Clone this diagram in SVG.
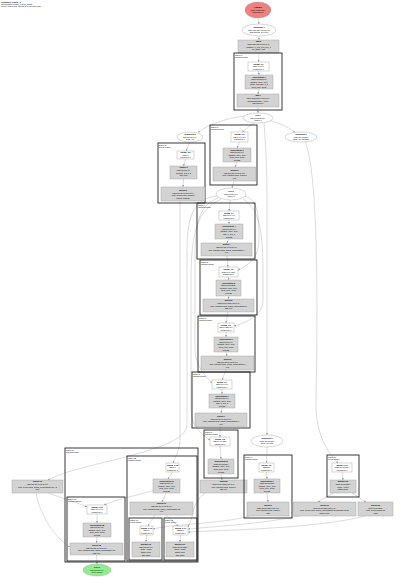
<svg xmlns="http://www.w3.org/2000/svg" width="400" height="577" viewBox="0 0 400 577">
<style>
.w{fill:#fff;stroke:#999;stroke-width:0.4}
.g{fill:#d3d3d3;stroke:#999;stroke-width:0.4}
.el{fill:#fff;stroke:#999;stroke-width:0.4}
.cl{fill:none;stroke:#222;stroke-width:0.9}
.e{fill:none;stroke:#999;stroke-width:0.35;marker-end:url(#a)}
text{font-family:"Liberation Sans",Arial,sans-serif;font-size:2px;fill:#000;text-anchor:middle}
.b{font-weight:bold}
.l{text-anchor:start}
</style>
<defs>
<marker id="a" markerUnits="userSpaceOnUse" markerWidth="2" markerHeight="2" refX="2" refY="1" orient="auto"><path d="M0,0 L2,1 L0,2 z" fill="#999"/></marker>
</defs>
<rect width="400" height="577" fill="#fff"/>
<g id="title"><text class="l b" x="1" y="2.6">HloModule cluster_0</text><text class="l" x="1" y="4.8">Computation cluster_0.main_graph</text><text class="l" x="1" y="7">Profile: fusion ops, ranked by execution order</text></g>

<g id="connectors">
<path class="e" d="M258,18 L259,24"/>
<path class="e" d="M259,36 L259,40"/>
<path class="e" d="M259,53 L258.5,62"/>
<path class="e" d="M258.5,71 L259,75"/>
<path class="e" d="M259,89 L258,94"/>
<path class="e" d="M258,107 L258,113"/>
<path class="e" d="M245,116 C226,118 207,125 198,132.5"/>
<path class="e" d="M254,123 L242,132"/>
<path class="e" d="M271,121 C282,124 290,128 295,132.5"/>
<path class="e" d="M264,123 C266,150 267,170 267,200 L267,435"/>
<path class="e" d="M190,142 L186,151"/>
<path class="e" d="M185.5,159 L183.5,166"/>
<path class="e" d="M183.5,179 L183,187"/>
<path class="e" d="M180,201 L180,440 C180,450 175,457 173,463"/>
<path class="e" d="M239.5,142 L237,148"/>
<path class="e" d="M237,162 L235,167"/>
<path class="e" d="M234,181 L232,188"/>
<path class="e" d="M230,200 L229,211"/>
<path class="e" d="M229,220 L229,224"/>
<path class="e" d="M229,239 L227,243"/>
<path class="e" d="M227,256 L228,267"/>
<path class="e" d="M228.5,277 L228.5,280"/>
<path class="e" d="M228.5,296 L228.5,299"/>
<path class="e" d="M228,312 L226,323"/>
<path class="e" d="M226,332 L226,337"/>
<path class="e" d="M226,352 L227,356"/>
<path class="e" d="M226,370 L222,380"/>
<path class="e" d="M222,389 L222,394"/>
<path class="e" d="M222,408 L221,413"/>
<path class="e" d="M220,427 L220,437"/>
<path class="e" d="M220,446 L221,459"/>
<path class="e" d="M221,474 L222,480"/>
<path class="e" d="M245,196 C258,200 259,215 259,240 C259,256 250,265 238,270"/>
<path class="e" d="M243,199 C262,210 263,240 263,280 L263,300 C263,315 248,322 234,326"/>
<path class="e" d="M218,198 C200,205 195,220 195,260 L195,350 C195,364 204,375 212,383"/>
<path class="e" d="M221,199 C198,210 191,230 191,280 L191,410 C191,424 199,433 210,440"/>
<path class="e" d="M216,196 C196,199 187,212 187,250 L187,425 C187,452 80,462 48,480"/>
<path class="e" d="M305,142 C318,170 318,300 316,400 C315,430 325,450 338,463"/>
<path class="e" d="M342,472 L343,480"/>
<path class="e" d="M352,493 L366,502"/>
<path class="e" d="M333,493 C327,497 322,499 318,502"/>
<path class="e" d="M267,447 L266.5,463"/>
<path class="e" d="M266.5,472 L267,479"/>
<path class="e" d="M267,493 L268,502"/>
<path class="e" d="M250,516 C220,524 172,524 153,529"/>
<path class="e" d="M300,516 C260,524 220,526 188,529"/>
<path class="e" d="M365,516 C320,528 230,530 188,532"/>
<path class="e" d="M205,493 C190,505 195,515 188,527"/>
<path class="e" d="M172.5,472 L168,479"/>
<path class="e" d="M166,493 L162,502"/>
<path class="e" d="M155,515 L148,526"/>
<path class="e" d="M166,515 L178,526"/>
<path class="e" d="M146.5,535 L146,542"/>
<path class="e" d="M180.5,535 L180,542"/>
<path class="e" d="M155,490 C138,495 118,499 104,505"/>
<path class="e" d="M48,493 C62,498 76,502 87,507"/>
<path class="e" d="M36,493 C40,515 55,538 70,547"/>
<path class="e" d="M97,514 L97,523"/>
<path class="e" d="M97,537 L96.5,543"/>
<path class="e" d="M96.5,555 L97,564"/>
</g>

<g id="n_start"><ellipse cx="258" cy="10" rx="13" ry="8" fill="#f08080" stroke="#999" stroke-width="0.4"/><text class="b" x="258" y="8.2">Param 0</text><text x="258" y="10.8">f32[1,3,224,224]</text><text x="258" y="13.4">parameter(0)</text></g>
<g id="n_e0"><ellipse class="el" cx="259" cy="30" rx="17" ry="6"/><text class="b" x="259" y="28.2">transpose.1</text><text x="259" y="30.8">f32[1,224,224,3]{3,2,1,0}</text><text x="259" y="33.4">dimensions={0,2,3,1}</text></g>
<g id="n_g0"><rect class="g" x="238" y="40" width="41" height="13"/><text class="b" x="258.5" y="42.4">pad.2</text><text x="258.5" y="45">f32[1,230,230,3]{3,2,1,0}</text><text x="258.5" y="47.6">padding=0_0x3_3x3_3x0_0</text><text x="258.5" y="50.2">op_name=pad</text></g>

<g id="c_A"><rect class="cl" x="234" y="53" width="48" height="57"/><text class="l" x="235" y="55.6">fusion.1</text><text class="l" x="235" y="57.8">kOutput fusion</text>
<rect class="w" x="248" y="62" width="21" height="9"/><text class="b" x="258.5" y="64.7">param_0.1</text><text x="258.5" y="67.3">f32[7,7,3,64]</text><text x="258.5" y="69.9">parameter 0</text>
<rect class="g" x="245" y="75" width="28" height="14"/><text class="b" x="259" y="77.6">convolution.1</text><text x="259" y="80.2">f32[1,112,112,64]</text><text x="259" y="82.8">window={size=7x7}</text><text x="259" y="85.4">stride=2x2 pad=3_3</text><text x="259" y="88">b01f_01io-&gt;b01f</text>
<rect class="g" x="237" y="94" width="42" height="13"/><text class="b" x="258" y="96.4">add.1</text><text x="258" y="99">f32[1,112,112,64]{3,2,1,0}</text><text x="258" y="101.6">broadcast(bias) + conv</text><text x="258" y="104.2">maximum(0)</text></g>

<g id="n_E1"><ellipse class="el" cx="258" cy="118" rx="15" ry="5"/><text class="b" x="258" y="116.2">relu.1</text><text x="258" y="118.8">f32[1,112,112,64]</text><text x="258" y="121.4">fusion.1</text></g>
<g id="n_L1"><ellipse class="el" cx="190" cy="137" rx="13" ry="5"/><text class="b" x="190" y="135.2">broadcast.2</text><text x="190" y="137.8">f32[1,56,56,64]</text><text x="190" y="140.4">dims={3}</text></g>
<g id="n_R1"><ellipse class="el" cx="301" cy="137" rx="16" ry="5"/><text class="b" x="301" y="135.2">broadcast.3</text><text x="301" y="137.8">f32[1,56,56,256]</text><text x="301" y="140.4">dims={3} constant</text></g>

<g id="c_B"><rect class="cl" x="158" y="143" width="47" height="60"/><text class="l" x="159" y="145.6">fusion.2</text><text class="l" x="159" y="147.8">kLoop fusion</text>
<rect class="w" x="177" y="151" width="17" height="8"/><text class="b" x="185.5" y="153.2">param_0.2</text><text x="185.5" y="155.8">f32[64]</text><text x="185.5" y="158.4">parameter 0</text>
<rect class="g" x="170" y="166" width="27" height="13"/><text class="b" x="183.5" y="168.4">reduce.2</text><text x="183.5" y="171">f32[1,56,56,64]</text><text x="183.5" y="173.6">window=3x3 s=2</text><text x="183.5" y="176.2">max pool</text>
<rect class="g" x="161" y="187" width="44" height="14"/><text class="b" x="183" y="190.9">fusion.2</text><text x="183" y="193.5">f32[1,56,56,64]{3,2,1,0}</text><text x="183" y="196.1">kind=kLoop calls=fused.2</text><text x="183" y="198.7">reduce-window</text></g>

<g id="c_C"><rect class="cl" x="210" y="125" width="47" height="60"/><text class="l" x="211" y="127.6">fusion.3</text><text class="l" x="211" y="129.8">kOutput fusion</text>
<rect class="w" x="231" y="132" width="17" height="10"/><text class="b" x="239.5" y="135.2">param_0.3</text><text x="239.5" y="137.8">f32[1,1,64,64]</text><text x="239.5" y="140.4">parameter 0</text>
<rect class="g" x="223" y="148" width="28" height="14"/><text class="b" x="237" y="150.6">convolution.3</text><text x="237" y="153.2">f32[1,56,56,64]</text><text x="237" y="155.8">window={size=1x1}</text><text x="237" y="158.4">b01f_01io-&gt;b01f</text><text x="237" y="161">conv2d</text>
<rect class="g" x="213" y="167" width="43" height="14"/><text class="b" x="234.5" y="170.9">fusion.3</text><text x="234.5" y="173.5">f32[1,56,56,64]{3,2,1,0}</text><text x="234.5" y="176.1">kind=kOutput calls=fused.3</text><text x="234.5" y="178.7">relu</text></g>

<g id="n_E2"><ellipse class="el" cx="231" cy="194" rx="15" ry="6"/><text class="b" x="231" y="192.2">relu.3</text><text x="231" y="194.8">f32[1,56,56,64]</text><text x="231" y="197.4">fusion.3</text></g>

<g id="c_D1"><rect class="cl" x="197" y="203" width="58" height="56"/><text class="l" x="198" y="205.6">fusion.4</text><text class="l" x="198" y="207.8">kOutput fusion</text>
<rect class="w" x="219" y="211" width="20" height="9"/><text class="b" x="229" y="213.7">param_0.4</text><text x="229" y="216.3">f32[3,3,64,64]</text><text x="229" y="218.9">parameter 0</text>
<rect class="g" x="215" y="224" width="28" height="15"/><text class="b" x="229" y="227.1">convolution.4</text><text x="229" y="229.7">f32[1,56,56,64]</text><text x="229" y="232.3">window={size=3x3}</text><text x="229" y="234.9">pad=1_1x1_1</text><text x="229" y="237.5">conv2d</text>
<rect class="g" x="201" y="243" width="51" height="13"/><text class="b" x="226.5" y="245.4">fusion.4</text><text x="226.5" y="248">f32[1,56,56,64]{3,2,1,0}</text><text x="226.5" y="250.6">kind=kOutput calls=fused_computation.4</text><text x="226.5" y="253.2">relu</text></g>

<g id="c_D2"><rect class="cl" x="200" y="260" width="57" height="55"/><text class="l" x="201" y="262.6">fusion.5</text><text class="l" x="201" y="264.8">kOutput fusion</text>
<rect class="w" x="219" y="267" width="19" height="10"/><text class="b" x="228.5" y="270.2">param_0.5</text><text x="228.5" y="272.8">f32[1,1,64,256]</text><text x="228.5" y="275.4">parameter 0</text>
<rect class="g" x="216" y="280" width="25" height="16"/><text class="b" x="228.5" y="283.6">convolution.5</text><text x="228.5" y="286.2">f32[1,56,56,256]</text><text x="228.5" y="288.8">window={size=1x1}</text><text x="228.5" y="291.4">b01f_01io-&gt;b01f</text><text x="228.5" y="294">conv2d</text>
<rect class="g" x="203" y="299" width="51" height="13"/><text class="b" x="228.5" y="301.4">fusion.5</text><text x="228.5" y="304">f32[1,56,56,256]{3,2,1,0}</text><text x="228.5" y="306.6">kind=kOutput calls=fused_computation.5</text><text x="228.5" y="309.2">add relu</text></g>

<g id="c_D3"><rect class="cl" x="198" y="316" width="57" height="56"/><text class="l" x="199" y="318.6">fusion.6</text><text class="l" x="199" y="320.8">kOutput fusion</text>
<rect class="w" x="218" y="323" width="16" height="9"/><text class="b" x="226" y="325.7">param_0.6</text><text x="226" y="328.3">f32[1,1,256,64]</text><text x="226" y="330.9">parameter 0</text>
<rect class="g" x="214" y="337" width="24" height="15"/><text class="b" x="226" y="340.1">convolution.6</text><text x="226" y="342.7">f32[1,56,56,64]</text><text x="226" y="345.3">window={size=1x1}</text><text x="226" y="347.9">b01f_01io-&gt;b01f</text><text x="226" y="350.5">conv2d</text>
<rect class="g" x="201" y="356" width="53" height="14"/><text class="b" x="227.5" y="359.9">fusion.6</text><text x="227.5" y="362.5">f32[1,56,56,64]{3,2,1,0}</text><text x="227.5" y="365.1">kind=kOutput calls=fused_computation.6</text><text x="227.5" y="367.7">relu</text></g>

<g id="c_D4"><rect class="cl" x="192" y="372" width="58" height="56"/><text class="l" x="193" y="374.6">fusion.7</text><text class="l" x="193" y="376.8">kOutput fusion</text>
<rect class="w" x="212" y="380" width="20" height="9"/><text class="b" x="222" y="382.7">param_0.7</text><text x="222" y="385.3">f32[3,3,64,64]</text><text x="222" y="387.9">parameter 0</text>
<rect class="g" x="209" y="394" width="26" height="14"/><text class="b" x="222" y="396.6">convolution.7</text><text x="222" y="399.2">f32[1,56,56,64]</text><text x="222" y="401.8">window={size=3x3}</text><text x="222" y="404.4">pad=1_1x1_1</text><text x="222" y="407">conv2d</text>
<rect class="g" x="195" y="413" width="52" height="14"/><text class="b" x="221" y="416.9">fusion.7</text><text x="221" y="419.5">f32[1,56,56,64]{3,2,1,0}</text><text x="221" y="422.1">kind=kOutput calls=fused_computation.7</text><text x="221" y="424.7">relu</text></g>

<g id="c_D5"><rect class="cl" x="204" y="430" width="34" height="48"/><text class="l" x="205" y="432.6">fusion.8</text><text class="l" x="205" y="434.8">kOutput fusion</text>
<rect class="w" x="210" y="437" width="20" height="9"/><text class="b" x="220" y="439.7">param_0.8</text><text x="220" y="442.3">f32[1,1,64,256]</text><text x="220" y="444.9">parameter 0</text>
<rect class="g" x="208" y="459" width="26" height="15"/><text class="b" x="221" y="462.1">convolution.8</text><text x="221" y="464.7">f32[1,56,56,256]</text><text x="221" y="467.3">window={size=1x1}</text><text x="221" y="469.9">b01f_01io-&gt;b01f</text><text x="221" y="472.5">conv2d</text></g>
<g id="n_M"><rect class="g" x="200" y="480" width="47" height="13"/><text class="b" x="223.5" y="482.4">fusion.8</text><text x="223.5" y="485">f32[1,56,56,256]{3,2,1,0}</text><text x="223.5" y="487.6">kind=kOutput calls=fused.8</text><text x="223.5" y="490.2">add relu</text></g>

<g id="n_E3"><ellipse class="el" cx="267" cy="441" rx="16" ry="6"/><text class="b" x="267" y="439.2">broadcast.9</text><text x="267" y="441.8">f32[1,56,56,256]</text><text x="267" y="444.4">dims={3} bias</text></g>

<g id="c_G"><rect class="cl" x="244" y="455" width="48" height="63"/><text class="l" x="245" y="457.6">fusion.9</text><text class="l" x="245" y="459.8">kOutput fusion</text>
<rect class="w" x="259" y="463" width="15" height="9"/><text class="b" x="266.5" y="465.7">param_0.9</text><text x="266.5" y="468.3">f32[256]</text><text x="266.5" y="470.9">parameter 0</text>
<rect class="g" x="254" y="479" width="26" height="14"/><text class="b" x="267" y="481.6">convolution.9</text><text x="267" y="484.2">f32[1,56,56,256]</text><text x="267" y="486.8">window={size=1x1}</text><text x="267" y="489.4">b01f_01io-&gt;b01f</text><text x="267" y="492">conv2d</text>
<rect class="g" x="247" y="502" width="42" height="14"/><text class="b" x="268" y="505.9">fusion.9</text><text x="268" y="508.5">f32[1,56,56,256]{3,2,1,0}</text><text x="268" y="511.1">kind=kOutput calls=fused.9</text><text x="268" y="513.7">add</text></g>

<g id="c_F"><rect class="cl" x="327" y="455" width="32" height="42"/><text class="l" x="328" y="457.6">fusion.10</text><text class="l" x="328" y="459.8">kLoop fusion</text>
<rect class="w" x="332" y="463" width="20" height="9"/><text class="b" x="342" y="465.7">param_0.10</text><text x="342" y="468.3">f32[1,56,56,256]</text><text x="342" y="470.9">parameter 0</text>
<rect class="g" x="330" y="480" width="26" height="13"/><text class="b" x="343" y="482.4">multiply.10</text><text x="343" y="485">f32[1,56,56,256]</text><text x="343" y="487.6">scale * input</text><text x="343" y="490.2">batch norm</text></g>

<g id="n_N1"><rect class="g" x="293" y="502" width="63" height="14"/><text class="b" x="324.5" y="505.9">fusion.11</text><text x="324.5" y="508.5">f32[1,56,56,256]{3,2,1,0}</text><text x="324.5" y="511.1">kind=kLoop calls=fused_computation.11 subtract mean</text><text x="324.5" y="513.7">batch norm</text></g>
<g id="n_N2"><rect class="g" x="358" y="502" width="35" height="14"/><text class="b" x="375.5" y="505.9">fusion.12</text><text x="375.5" y="508.5">f32[1,56,56,256]</text><text x="375.5" y="511.1">kind=kLoop fused.12</text><text x="375.5" y="513.7">rsqrt</text></g>

<g id="n_K"><rect class="g" x="12" y="480" width="51" height="13"/><text class="b" x="37.5" y="482.4">fusion.13</text><text x="37.5" y="485">f32[1,56,56,64]{3,2,1,0}</text><text x="37.5" y="487.6">kind=kLoop calls=fused_computation.13 y 2</text><text x="37.5" y="490.2">copy</text></g>

<g id="c_H"><rect class="cl" x="65" y="448" width="133" height="114"/><text class="l" x="66" y="450.6">fusion.14</text><text class="l" x="66" y="452.8">kOutput fusion</text></g>
<g id="c_I"><rect class="cl" x="127" y="456" width="70" height="105"/><text class="l" x="128" y="458.6">fusion.15</text><text class="l" x="128" y="460.8">kOutput fusion</text>
<rect class="w" x="166" y="463" width="13" height="9"/><text class="b" x="172.5" y="465.7">param_0.15</text><text x="172.5" y="468.3">f32[64]</text><text x="172.5" y="470.9">parameter 0</text>
<rect class="g" x="153" y="479" width="27" height="14"/><text class="b" x="166.5" y="481.6">convolution.15</text><text x="166.5" y="484.2">f32[1,56,56,64]</text><text x="166.5" y="486.8">window={size=1x1}</text><text x="166.5" y="489.4">b01f_01io-&gt;b01f</text><text x="166.5" y="492">conv2d</text>
<rect class="g" x="130" y="502" width="63" height="13"/><text class="b" x="161.5" y="504.4">fusion.15</text><text x="161.5" y="507">f32[1,56,56,64]{3,2,1,0}</text><text x="161.5" y="509.6">kind=kOutput calls=fused_computation.15</text><text x="161.5" y="512.2">relu</text></g>
<g id="c_I1"><rect class="cl" x="129" y="518" width="33" height="42"/><text class="l" x="130" y="520.6">fusion.16</text><text class="l" x="130" y="522.8">kLoop fusion</text>
<rect class="w" x="140" y="526" width="13" height="9"/><text class="b" x="146.5" y="528.7">param_0.16</text><text x="146.5" y="531.3">f32[64]</text><text x="146.5" y="533.9">parameter 0</text>
<rect class="g" x="132" y="542" width="28" height="15"/><text class="b" x="146" y="545.1">multiply.16</text><text x="146" y="547.7">f32[1,56,56,64]</text><text x="146" y="550.3">scale * input</text><text x="146" y="552.9">batch norm</text><text x="146" y="555.5">add offset</text></g>
<g id="c_I2"><rect class="cl" x="164" y="518" width="33" height="42"/><text class="l" x="165" y="520.6">fusion.17</text><text class="l" x="165" y="522.8">kLoop fusion</text>
<rect class="w" x="173" y="526" width="15" height="9"/><text class="b" x="180.5" y="528.7">param_0.17</text><text x="180.5" y="531.3">f32[256]</text><text x="180.5" y="533.9">parameter 0</text>
<rect class="g" x="166" y="542" width="28" height="15"/><text class="b" x="180" y="545.1">multiply.17</text><text x="180" y="547.7">f32[1,56,56,256]</text><text x="180" y="550.3">scale * input</text><text x="180" y="552.9">batch norm</text><text x="180" y="555.5">add offset</text></g>
<g id="c_J"><rect class="cl" x="67" y="497" width="58" height="64"/><text class="l" x="68" y="499.6">fusion.18</text><text class="l" x="68" y="501.8">kOutput fusion</text>
<rect class="w" x="87" y="505" width="20" height="9"/><text class="b" x="97" y="507.7">param_0.18</text><text x="97" y="510.3">f32[1,1,64,64]</text><text x="97" y="512.9">parameter 0</text>
<rect class="g" x="83" y="523" width="28" height="14"/><text class="b" x="97" y="525.6">convolution.18</text><text x="97" y="528.2">f32[1,56,56,64]</text><text x="97" y="530.8">window={size=1x1}</text><text x="97" y="533.4">b01f_01io-&gt;b01f</text><text x="97" y="536">conv2d</text>
<rect class="g" x="70" y="543" width="53" height="12"/><text class="b" x="96.5" y="545.9">fusion.18</text><text x="96.5" y="548.5">f32[1,56,56,64]{3,2,1,0}</text><text x="96.5" y="551.1">kind=kOutput calls=fused_computation.18</text><text x="96.5" y="553.7">add relu</text></g>

<g id="n_end"><ellipse cx="97" cy="570" rx="14" ry="6" fill="#90ee90" stroke="#999" stroke-width="0.4"/><text class="b" x="97" y="568.2">ROOT</text><text x="97" y="570.8">f32[1,56,56,64]</text><text x="97" y="573.4">tuple output</text></g>
</svg>
